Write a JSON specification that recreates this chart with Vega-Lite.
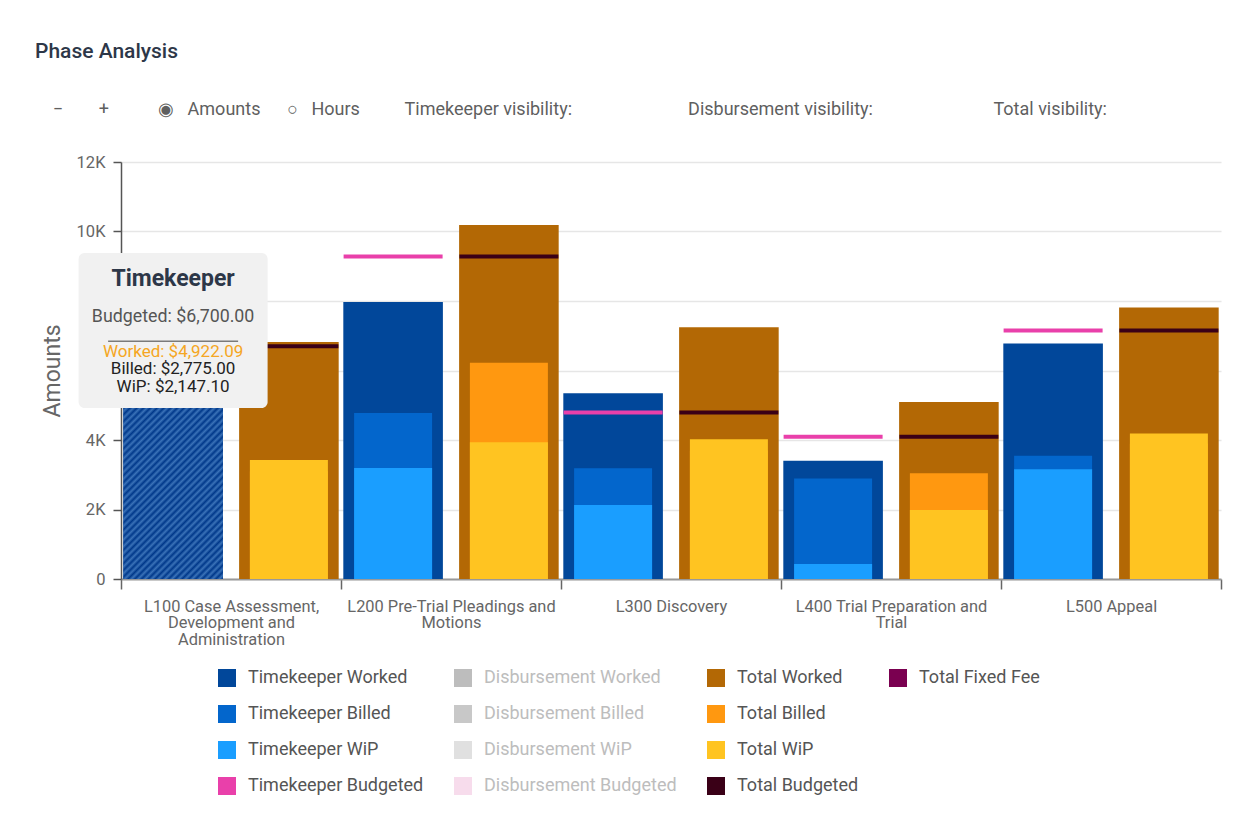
{
  "$schema": "https://vega.github.io/schema/vega-lite/v6.json",
  "width": 1100,
  "height": 417,
  "autosize": {"type": "none"},
  "padding": {"left": 121, "top": 162, "right": 29, "bottom": 261},
  "config": {"font": "Roboto", "view": {"stroke": null}},
  "title": {
    "text": "Phase Analysis",
    "subtitle": "\u200b\u00a0\u00a0\u00a0\u00a0\u2212\u00a0\u00a0\u00a0\u00a0\u00a0\u00a0\u00a0\u00a0+\u00a0\u00a0\u00a0\u00a0\u00a0\u00a0\u00a0\u00a0\u00a0\u00a0\u00a0\u25c9\u00a0\u00a0\u00a0Amounts\u00a0\u00a0\u00a0\u00a0\u00a0\u00a0\u25cb\u00a0\u00a0\u00a0Hours\u00a0\u00a0\u00a0\u00a0\u00a0\u00a0\u00a0\u00a0\u00a0\u00a0Timekeeper visibility:\u00a0\u00a0\u00a0\u00a0\u00a0\u00a0\u00a0\u00a0\u00a0\u00a0\u00a0\u00a0\u00a0\u00a0\u00a0\u00a0\u00a0\u00a0\u00a0\u00a0\u00a0\u00a0\u00a0\u00a0\u00a0\u00a0Disbursement visibility:\u00a0\u00a0\u00a0\u00a0\u00a0\u00a0\u00a0\u00a0\u00a0\u00a0\u00a0\u00a0\u00a0\u00a0\u00a0\u00a0\u00a0\u00a0\u00a0\u00a0\u00a0\u00a0\u00a0\u00a0\u00a0\u00a0\u00a0Total visibility:",
    "anchor": "start",
    "frame": "group",
    "dx": -86,
    "fontSize": 21,
    "fontWeight": 500,
    "color": "#2d3748",
    "font": "Roboto",
    "subtitleFont": "Roboto",
    "subtitleFontSize": 18,
    "subtitleColor": "#5f5f5f",
    "subtitlePadding": 39,
    "offset": 35
  },
  "data": {
    "values": [
      {"phase": "L100 Case Assessment, Development and Administration", "group": "Timekeeper", "measure": "Worked", "series": "Timekeeper Worked", "value": 4922.09},
      {"phase": "L100 Case Assessment, Development and Administration", "group": "Timekeeper", "measure": "Billed", "series": "Timekeeper Billed", "value": 2775},
      {"phase": "L100 Case Assessment, Development and Administration", "group": "Timekeeper", "measure": "WiP", "series": "Timekeeper WiP", "value": 2147.1},
      {"phase": "L100 Case Assessment, Development and Administration", "group": "Timekeeper", "measure": "Budgeted", "series": "Timekeeper Budgeted", "value": 6700},
      {"phase": "L100 Case Assessment, Development and Administration", "group": "Total", "measure": "Worked", "series": "Total Worked", "value": 6820},
      {"phase": "L100 Case Assessment, Development and Administration", "group": "Total", "measure": "Billed", "series": "Total Billed", "value": 3100},
      {"phase": "L100 Case Assessment, Development and Administration", "group": "Total", "measure": "WiP", "series": "Total WiP", "value": 3425},
      {"phase": "L100 Case Assessment, Development and Administration", "group": "Total", "measure": "Budgeted", "series": "Total Budgeted", "value": 6700},
      {"phase": "L200 Pre-Trial Pleadings and Motions", "group": "Timekeeper", "measure": "Worked", "series": "Timekeeper Worked", "value": 7970},
      {"phase": "L200 Pre-Trial Pleadings and Motions", "group": "Timekeeper", "measure": "Billed", "series": "Timekeeper Billed", "value": 4780},
      {"phase": "L200 Pre-Trial Pleadings and Motions", "group": "Timekeeper", "measure": "WiP", "series": "Timekeeper WiP", "value": 3195},
      {"phase": "L200 Pre-Trial Pleadings and Motions", "group": "Timekeeper", "measure": "Budgeted", "series": "Timekeeper Budgeted", "value": 9280},
      {"phase": "L200 Pre-Trial Pleadings and Motions", "group": "Total", "measure": "Worked", "series": "Total Worked", "value": 10190},
      {"phase": "L200 Pre-Trial Pleadings and Motions", "group": "Total", "measure": "Billed", "series": "Total Billed", "value": 6220},
      {"phase": "L200 Pre-Trial Pleadings and Motions", "group": "Total", "measure": "WiP", "series": "Total WiP", "value": 3935},
      {"phase": "L200 Pre-Trial Pleadings and Motions", "group": "Total", "measure": "Budgeted", "series": "Total Budgeted", "value": 9280},
      {"phase": "L300 Discovery", "group": "Timekeeper", "measure": "Worked", "series": "Timekeeper Worked", "value": 5345},
      {"phase": "L300 Discovery", "group": "Timekeeper", "measure": "Billed", "series": "Timekeeper Billed", "value": 3185},
      {"phase": "L300 Discovery", "group": "Timekeeper", "measure": "WiP", "series": "Timekeeper WiP", "value": 2130},
      {"phase": "L300 Discovery", "group": "Timekeeper", "measure": "Budgeted", "series": "Timekeeper Budgeted", "value": 4790},
      {"phase": "L300 Discovery", "group": "Total", "measure": "Worked", "series": "Total Worked", "value": 7245},
      {"phase": "L300 Discovery", "group": "Total", "measure": "Billed", "series": "Total Billed", "value": 3700},
      {"phase": "L300 Discovery", "group": "Total", "measure": "WiP", "series": "Total WiP", "value": 4020},
      {"phase": "L300 Discovery", "group": "Total", "measure": "Budgeted", "series": "Total Budgeted", "value": 4790},
      {"phase": "L400 Trial Preparation and Trial", "group": "Timekeeper", "measure": "Worked", "series": "Timekeeper Worked", "value": 3405},
      {"phase": "L400 Trial Preparation and Trial", "group": "Timekeeper", "measure": "Billed", "series": "Timekeeper Billed", "value": 2890},
      {"phase": "L400 Trial Preparation and Trial", "group": "Timekeeper", "measure": "WiP", "series": "Timekeeper WiP", "value": 432},
      {"phase": "L400 Trial Preparation and Trial", "group": "Timekeeper", "measure": "Budgeted", "series": "Timekeeper Budgeted", "value": 4095},
      {"phase": "L400 Trial Preparation and Trial", "group": "Total", "measure": "Worked", "series": "Total Worked", "value": 5090},
      {"phase": "L400 Trial Preparation and Trial", "group": "Total", "measure": "Billed", "series": "Total Billed", "value": 3045},
      {"phase": "L400 Trial Preparation and Trial", "group": "Total", "measure": "WiP", "series": "Total WiP", "value": 1985},
      {"phase": "L400 Trial Preparation and Trial", "group": "Total", "measure": "Budgeted", "series": "Total Budgeted", "value": 4095},
      {"phase": "L500 Appeal", "group": "Timekeeper", "measure": "Worked", "series": "Timekeeper Worked", "value": 6775},
      {"phase": "L500 Appeal", "group": "Timekeeper", "measure": "Billed", "series": "Timekeeper Billed", "value": 3548},
      {"phase": "L500 Appeal", "group": "Timekeeper", "measure": "WiP", "series": "Timekeeper WiP", "value": 3160},
      {"phase": "L500 Appeal", "group": "Timekeeper", "measure": "Budgeted", "series": "Timekeeper Budgeted", "value": 7150},
      {"phase": "L500 Appeal", "group": "Total", "measure": "Worked", "series": "Total Worked", "value": 7810},
      {"phase": "L500 Appeal", "group": "Total", "measure": "Billed", "series": "Total Billed", "value": 3900},
      {"phase": "L500 Appeal", "group": "Total", "measure": "WiP", "series": "Total WiP", "value": 4185},
      {"phase": "L500 Appeal", "group": "Total", "measure": "Budgeted", "series": "Total Budgeted", "value": 7150}
    ]
  },
  "encoding": {
    "x": {
      "field": "phase", "type": "nominal", "sort": null, "title": null,
      "scale": {"paddingInner": 0, "paddingOuter": 0},
      "axis": {
        "labelAngle": 0, "labelFontSize": 16.4, "labelColor": "#666666", "labelLineHeight": 16.5,
        "labelPadding": 9, "labelLimit": 300,
        "tickBand": "extent", "tickSize": 10, "tickColor": "#666666", "tickWidth": 1.5,
        "domainColor": "#999999", "domainWidth": 2, "grid": false,
        "labelExpr": "datum.value == 'L100 Case Assessment, Development and Administration' ? ['L100 Case Assessment,', 'Development and', 'Administration'] : datum.value == 'L200 Pre-Trial Pleadings and Motions' ? ['L200 Pre-Trial Pleadings and', 'Motions'] : datum.value == 'L400 Trial Preparation and Trial' ? ['L400 Trial Preparation and', 'Trial'] : datum.label"
      }
    },
    "xOffset": {"field": "group", "type": "nominal", "sort": ["Timekeeper", "Total"], "scale": {"paddingInner": 0.14, "paddingOuter": 0.02}},
    "y": {
      "field": "value", "type": "quantitative", "title": "Amounts",
      "scale": {"domain": [0, 12000], "nice": false},
      "axis": {
        "values": [0, 2000, 4000, 6000, 8000, 10000, 12000],
        "labelExpr": "datum.value == 0 ? '0' : (datum.value == 6000 || datum.value == 8000) ? '' : (datum.value / 1000) + 'K'",
        "labelFontSize": 16.5, "labelColor": "#666666", "labelPadding": 8,
        "tickSize": 8, "tickColor": "#555555", "tickWidth": 1.5,
        "domainColor": "#555555", "domainWidth": 1.5,
        "gridColor": "#e6e6e6", "gridWidth": 1.5,
        "titleFontSize": 23, "titleFontWeight": "normal", "titleColor": "#666666", "titlePadding": 12
      }
    }
  },
  "layer": [
    {
      "encoding": {
        "color": {
          "field": "series", "type": "nominal",
          "scale": {
            "domain": ["Timekeeper Worked", "Timekeeper Billed", "Timekeeper WiP", "Timekeeper Budgeted", "Disbursement Worked", "Disbursement Billed", "Disbursement WiP", "Disbursement Budgeted", "Total Worked", "Total Billed", "Total WiP", "Total Budgeted", "Total Fixed Fee", " ", "  ", "   "],
            "range": ["#01479a", "#0366cc", "#1a9eff", "#e940aa", "#bdbdbd", "#c8c8c8", "#e0e0e0", "#f7dcec", "#b36805", "#ff9810", "#ffc421", "#3a0017", "#7a0050", "rgba(0,0,0,0)", "rgba(0,0,0,0)", "rgba(0,0,0,0)"]
          },
          "legend": {
            "title": null, "orient": "none", "legendX": 97, "legendY": 507, "columns": 4,
            "symbolType": "square", "symbolSize": 324, "symbolStrokeWidth": 0,
            "labelFontSize": 18, "labelColor": "#555555", "labelFont": "Roboto", "labelLimit": 300,
            "labelOffset": 12, "columnPadding": 30, "rowPadding": 18, "padding": 0,
            "encode": {"labels": {"update": {"fill": {"signal": "indexof(datum.label, 'Disbursement') >= 0 ? '#bdbdbd' : '#555555'"}}}}
          }
        }
      },
      "layer": [
        {
          "transform": [{"filter": "datum.measure == 'Worked'"}],
          "mark": {"type": "bar"}
        },
        {
          "transform": [{"filter": "datum.measure == 'Billed'"}],
          "mark": {"type": "bar", "width": 78}
        },
        {
          "transform": [{"filter": "datum.measure == 'WiP'"}],
          "mark": {"type": "bar", "width": 78}
        },
        {
          "transform": [{"filter": "datum.measure == 'Budgeted'"}],
          "mark": {"type": "tick", "size": 99, "thickness": 4, "opacity": 1}
        }
      ]
    },
    {
      "transform": [{"filter": "datum.phase == 'L100 Case Assessment, Development and Administration' && datum.series == 'Timekeeper Worked'"}],
      "layer": [
        {
          "mark": {
            "type": "bar",
            "fill": {
              "gradient": "linear", "x1": 0, "y1": 0, "x2": 0.688, "y2": 1.18,
              "stops": [
                {"offset": 0, "color": "#00388a"}, {"offset": 0.0125, "color": "#3a72b8"},
                {"offset": 0.025, "color": "#00388a"}, {"offset": 0.0375, "color": "#3a72b8"},
                {"offset": 0.05, "color": "#00388a"}, {"offset": 0.0625, "color": "#3a72b8"},
                {"offset": 0.075, "color": "#00388a"}, {"offset": 0.0875, "color": "#3a72b8"},
                {"offset": 0.1, "color": "#00388a"}, {"offset": 0.1125, "color": "#3a72b8"},
                {"offset": 0.125, "color": "#00388a"}, {"offset": 0.1375, "color": "#3a72b8"},
                {"offset": 0.15, "color": "#00388a"}, {"offset": 0.1625, "color": "#3a72b8"},
                {"offset": 0.175, "color": "#00388a"}, {"offset": 0.1875, "color": "#3a72b8"},
                {"offset": 0.2, "color": "#00388a"}, {"offset": 0.2125, "color": "#3a72b8"},
                {"offset": 0.225, "color": "#00388a"}, {"offset": 0.2375, "color": "#3a72b8"},
                {"offset": 0.25, "color": "#00388a"}, {"offset": 0.2625, "color": "#3a72b8"},
                {"offset": 0.275, "color": "#00388a"}, {"offset": 0.2875, "color": "#3a72b8"},
                {"offset": 0.3, "color": "#00388a"}, {"offset": 0.3125, "color": "#3a72b8"},
                {"offset": 0.325, "color": "#00388a"}, {"offset": 0.3375, "color": "#3a72b8"},
                {"offset": 0.35, "color": "#00388a"}, {"offset": 0.3625, "color": "#3a72b8"},
                {"offset": 0.375, "color": "#00388a"}, {"offset": 0.3875, "color": "#3a72b8"},
                {"offset": 0.4, "color": "#00388a"}, {"offset": 0.4125, "color": "#3a72b8"},
                {"offset": 0.425, "color": "#00388a"}, {"offset": 0.4375, "color": "#3a72b8"},
                {"offset": 0.45, "color": "#00388a"}, {"offset": 0.4625, "color": "#3a72b8"},
                {"offset": 0.475, "color": "#00388a"}, {"offset": 0.4875, "color": "#3a72b8"},
                {"offset": 0.5, "color": "#00388a"}, {"offset": 0.5125, "color": "#3a72b8"},
                {"offset": 0.525, "color": "#00388a"}, {"offset": 0.5375, "color": "#3a72b8"},
                {"offset": 0.55, "color": "#00388a"}, {"offset": 0.5625, "color": "#3a72b8"},
                {"offset": 0.575, "color": "#00388a"}, {"offset": 0.5875, "color": "#3a72b8"},
                {"offset": 0.6, "color": "#00388a"}, {"offset": 0.6125, "color": "#3a72b8"},
                {"offset": 0.625, "color": "#00388a"}, {"offset": 0.6375, "color": "#3a72b8"},
                {"offset": 0.65, "color": "#00388a"}, {"offset": 0.6625, "color": "#3a72b8"},
                {"offset": 0.675, "color": "#00388a"}, {"offset": 0.6875, "color": "#3a72b8"},
                {"offset": 0.7, "color": "#00388a"}, {"offset": 0.7125, "color": "#3a72b8"},
                {"offset": 0.725, "color": "#00388a"}, {"offset": 0.7375, "color": "#3a72b8"},
                {"offset": 0.75, "color": "#00388a"}, {"offset": 0.7625, "color": "#3a72b8"},
                {"offset": 0.775, "color": "#00388a"}, {"offset": 0.7875, "color": "#3a72b8"},
                {"offset": 0.8, "color": "#00388a"}, {"offset": 0.8125, "color": "#3a72b8"},
                {"offset": 0.825, "color": "#00388a"}, {"offset": 0.8375, "color": "#3a72b8"},
                {"offset": 0.85, "color": "#00388a"}, {"offset": 0.8625, "color": "#3a72b8"},
                {"offset": 0.875, "color": "#00388a"}, {"offset": 0.8875, "color": "#3a72b8"},
                {"offset": 0.9, "color": "#00388a"}, {"offset": 0.9125, "color": "#3a72b8"},
                {"offset": 0.925, "color": "#00388a"}, {"offset": 0.9375, "color": "#3a72b8"},
                {"offset": 0.95, "color": "#00388a"}, {"offset": 0.9625, "color": "#3a72b8"},
                {"offset": 0.975, "color": "#00388a"}, {"offset": 0.9875, "color": "#3a72b8"},
                {"offset": 1, "color": "#00388a"}
              ]
            }
          }
        },
        {
          "mark": {"type": "bar", "width": 78, "fill": "#0366cc"},
          "encoding": {"y": {"datum": 2775}}
        },
        {
          "mark": {"type": "bar", "width": 78, "fill": "#1a9eff"},
          "encoding": {"y": {"datum": 2147.1}}
        },
        {
          "mark": {"type": "bar", "width": 189, "y2Offset": -155, "cornerRadius": 6, "fill": "#f1f1f1", "opacity": 1},
          "encoding": {"y2": {"field": "value"}}
        },
        {
          "mark": {"type": "bar", "width": 130, "yOffset": -66, "y2Offset": -67.5, "fill": "#7a7a7a"},
          "encoding": {"y2": {"field": "value"}}
        },
        {
          "mark": {"type": "text", "text": "Timekeeper", "dy": -129, "fontSize": 23, "fontWeight": "bold", "color": "#2d3748", "align": "center", "baseline": "middle"}
        },
        {
          "mark": {"type": "text", "text": "Budgeted: $6,700.00", "dy": -91, "fontSize": 17.8, "color": "#555555", "align": "center", "baseline": "middle"}
        },
        {
          "mark": {"type": "text", "text": "Worked: $4,922.09", "dy": -56, "fontSize": 17, "color": "#f5a623", "align": "center", "baseline": "middle"}
        },
        {
          "mark": {"type": "text", "text": "Billed: $2,775.00", "dy": -38.5, "fontSize": 17, "color": "#222222", "align": "center", "baseline": "middle"}
        },
        {
          "mark": {"type": "text", "text": "WiP: $2,147.10", "dy": -21, "fontSize": 17, "color": "#222222", "align": "center", "baseline": "middle"}
        }
      ]
    }
  ]
}
